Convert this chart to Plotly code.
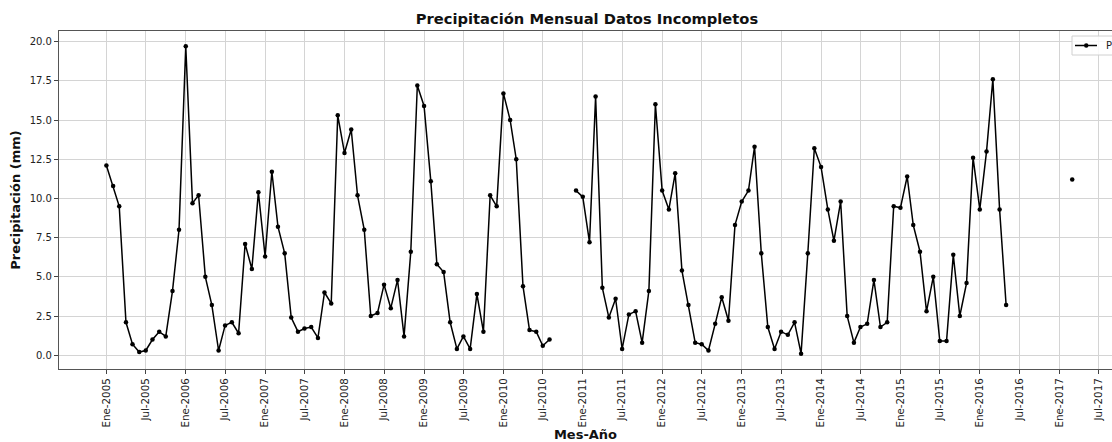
import pandas as pd
import plotly.graph_objects as go

# Monthly precipitation (mm); None = missing month
p2005 = [12.1, 10.8, 9.5, 2.1, 0.7, 0.2, 0.3, 1.0, 1.5, 1.2, 4.1, 8.0]
p2006 = [19.7, 9.7, 10.2, 5.0, 3.2, 0.3, 1.9, 2.1, 1.4, 7.1, 5.5, 10.4]
p2007 = [6.3, 11.7, 8.2, 6.5, 2.4, 1.5, 1.7, 1.8, 1.1, 4.0, 3.3, 15.3]
p2008 = [12.9, 14.4, 10.2, 8.0, 2.5, 2.7, 4.5, 3.0, 4.8, 1.2, 6.6, 17.2]
p2009 = [15.9, 11.1, 5.8, 5.3, 2.1, 0.4, 1.2, 0.4, 3.9, 1.5, 10.2, 9.5]
p2010 = [16.7, 15.0, 12.5, 4.4, 1.6, 1.5, 0.6, 1.0, None, None, None, 10.5]
p2011 = [10.1, 7.2, 16.5, 4.3, 2.4, 3.6, 0.4, 2.6, 2.8, 0.8, 4.1, 16.0]
p2012 = [10.5, 9.3, 11.6, 5.4, 3.2, 0.8, 0.7, 0.3, 2.0, 3.7, 2.2, 8.3]
p2013 = [9.8, 10.5, 13.3, 6.5, 1.8, 0.4, 1.5, 1.3, 2.1, 0.1, 6.5, 13.2]
p2014 = [12.0, 9.3, 7.3, 9.8, 2.5, 0.8, 1.8, 2.0, 4.8, 1.8, 2.1, 9.5]
p2015 = [9.4, 11.4, 8.3, 6.6, 2.8, 5.0, 0.9, 0.9, 6.4, 2.5, 4.6, 12.6]
p2016 = [9.3, 13.0, 17.6, 9.3, 3.2, None, None, None, None, None, None, None]
p2017 = [None, None, 11.2]

values = (p2005 + p2006 + p2007 + p2008 + p2009 + p2010 + p2011 + p2012
          + p2013 + p2014 + p2015 + p2016 + p2017)
dates = pd.date_range("2005-01-01", periods=len(values), freq="MS")

tick_years = list(range(2005, 2018))
tick_months = [(1, "Ene"), (7, "Jul")]
tick_vals = [pd.Timestamp(year=y, month=m, day=1) for y in tick_years for m, _ in tick_months]
tick_text = [f"{n}-{y}" for y in tick_years for _, n in tick_months]
y_ticks = [0, 2.5, 5, 7.5, 10, 12.5, 15, 17.5, 20]

series_name = "Precipitación"

W, H = 1112, 442
L, R, T, B = 59, 0, 31, 73
PW, PH = W - L - R, H - T - B


def px(x):
    return (x - L) / PW


def py(y):
    return 1 - (y - T) / PH


fig = go.Figure()
fig.add_trace(go.Scatter(
    x=dates, y=values, mode="lines+markers", name=series_name,
    line=dict(color="black", width=1.5),
    marker=dict(color="black", size=4.5),
    connectgaps=False, showlegend=False,
))

# legend box (matplotlib style, partly cut by the figure edge)
shapes = [
    dict(type="rect", xref="paper", yref="paper",
         x0=px(1072), x1=px(1200), y0=py(55), y1=py(36),
         line=dict(color="#d0d0d0", width=1), fillcolor="rgba(255,255,255,0.85)",
         layer="above"),
    dict(type="line", xref="paper", yref="paper",
         x0=px(1075), x1=px(1097), y0=py(45.5), y1=py(45.5),
         line=dict(color="black", width=1.5), layer="above"),
    dict(type="circle", xref="paper", yref="paper",
         x0=px(1084), x1=px(1088.5), y0=py(47.75), y1=py(43.25),
         line=dict(color="black", width=0), fillcolor="black", layer="above"),
]
annotations = [
    dict(text=series_name, xref="paper", yref="paper", x=px(1104), y=py(45.5),
         xanchor="left", yanchor="middle", showarrow=False,
         font=dict(size=10, color="#222")),
]

font_family = "DejaVu Sans"
fig.update_layout(
    width=W, height=H,
    margin=dict(l=L, r=R, t=T, b=B, pad=0, autoexpand=False),
    paper_bgcolor="white", plot_bgcolor="white",
    font=dict(family=font_family, size=10, color="#222"),
    title=dict(text="<b>Precipitación Mensual Datos Incompletos</b>",
               x=587 / W, xref="container", xanchor="center",
               y=1 - 18.5 / H, yref="container", yanchor="middle",
               font=dict(size=14.7, color="#111")),
    shapes=shapes, annotations=annotations,
    xaxis=dict(
        type="date",
        range=["2004-05-28", "2017-08-31"],
        tickmode="array", tickvals=tick_vals, ticktext=tick_text,
        tickangle=-90, ticks="outside", ticklen=4, tickcolor="#444",
        showgrid=True, gridcolor="#d4d4d4", gridwidth=1,
        showline=True, linecolor="#555", linewidth=1.2, mirror=True,
        zeroline=False,
        title=dict(text="<b>Mes-Año</b>", font=dict(size=13, color="#111"), standoff=5),
        tickfont=dict(size=10.3),
    ),
    yaxis=dict(
        range=[-0.88, 20.68],
        tickmode="array", tickvals=y_ticks,
        tickformat=".1f",
        ticks="outside", ticklen=4, tickcolor="#444",
        showgrid=True, gridcolor="#d4d4d4", gridwidth=1,
        showline=True, linecolor="#555", linewidth=1.2, mirror=False,
        zeroline=False,
        title=dict(text="<b>Precipitación (mm)</b>", font=dict(size=13, color="#111"), standoff=6),
        tickfont=dict(size=10),
    ),
)

fig.write_html("out.html")
